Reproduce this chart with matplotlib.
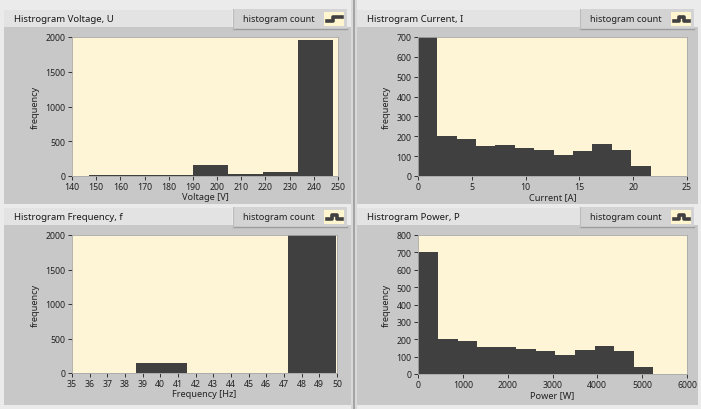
import matplotlib
matplotlib.use("Agg")
import matplotlib.pyplot as plt
from matplotlib.patches import Rectangle
from matplotlib.lines import Line2D

W, H = 701, 410
FONT = ["Noto Sans", "DejaVu Sans"]

# ---------------- data ----------------
voltage_edges = [147, 161.4, 175.8, 190.2, 204.6, 219, 233.4, 247.8]
voltage_counts = [12, 12, 12, 160, 22, 62, 1950]
voltage_xticks = [140, 150, 160, 170, 180, 190, 200, 210, 220, 230, 240, 250]
voltage_yticks = [0, 500, 1000, 1500, 2000]

current_edges = [0, 1.8, 3.6, 5.4, 7.2, 9.0, 10.8, 12.6, 14.4, 16.2, 18.0, 19.8, 21.7]
current_counts = [700, 202, 185, 150, 157, 140, 131, 106, 126, 162, 131, 51]
current_xticks = [0, 5, 10, 15, 20, 25]
current_yticks = [0, 100, 200, 300, 400, 500, 600, 700]

freq_edges = [38.6, 41.5, 47.2, 49.95]
freq_counts = [140, 3, 2000]
freq_xticks = [35, 36, 37, 38, 39, 40, 41, 42, 43, 44, 45, 46, 47, 48, 49, 50]
freq_yticks = [0, 500, 1000, 1500, 2000]

power_edges = [0, 439, 885, 1323, 1762, 2193, 2632, 3063, 3494, 3940, 4379, 4810, 5249]
power_counts = [704, 200, 189, 156, 156, 143, 135, 109, 137, 162, 135, 38]
power_xticks = [0, 1000, 2000, 3000, 4000, 5000, 6000]
power_yticks = [0, 100, 200, 300, 400, 500, 600, 700, 800]

titles = ["Histrogram Voltage, U", "Histrogram Current, I",
          "Histrogram Frequency, f", "Histrogram Power, P"]
xlabels = ["Voltage [V]", "Current [A]", "Frequency [Hz]", "Power [W]"]
legend_text = "histogram count"

# ---------------- layout helpers ----------------
fig = plt.figure(figsize=(W / 100, H / 100), dpi=100)
fig.patch.set_facecolor("#ebebeb")


def rect(x0, y0, x1, y1, fc, ec="none", lw=0.0, z=0):
    fig.patches.append(Rectangle((x0 / W, 1 - y1 / H), (x1 - x0) / W, (y1 - y0) / H,
                                 transform=fig.transFigure, facecolor=fc,
                                 edgecolor=ec, linewidth=lw, zorder=z))


def line(xs, ys, color, lw, z=3):
    fig.lines.append(Line2D([x / W for x in xs], [1 - y / H for y in ys],
                            transform=fig.transFigure, color=color, linewidth=lw, zorder=z))


def text(x, y, s, size, **kw):
    fig.text(x / W, 1 - y / H, s, fontsize=size, family=FONT, zorder=6, **kw)


BAR = "#404040"
PLOTBG = "#fdf5d6"
PANEL = "#c8c8c8"

panels = [
    # (panel x0, x1, y0 title, y1 bottom, axes box l, r, t, b)
    (4, 351, 9, 205, 72, 338, 38, 177),
    (357, 698, 9, 205, 418, 687, 38, 177),
    (4, 351, 207, 406, 72, 337, 236, 374),
    (357, 698, 207, 406, 418, 687, 236, 375),
]

data = [
    (voltage_edges, voltage_counts, voltage_xticks, voltage_yticks, (140, 250), (0, 2000)),
    (current_edges, current_counts, current_xticks, current_yticks, (0, 25), (0, 700)),
    (freq_edges, freq_counts, freq_xticks, freq_yticks, (35, 50), (0, 2000)),
    (power_edges, power_counts, power_xticks, power_yticks, (0, 6000), (0, 800)),
]

icons = ["step", "bump", "bump", "bump"]

# vertical divider
rect(351, 0, 357, H, "#d9d9d9")
line([353.5, 353.5], [0, H], "#9a9a9a", 1.2, z=1)

for i, ((px0, px1, py0, py1, l, r, t, b), (edges, counts, xt, yt, xl, yl)) in enumerate(zip(panels, data)):
    # title strip + graph panel
    rect(px0, py0 + 19, px1, py1, PANEL, z=0)
    rect(px0, py0 + 2, px0 + 228, py0 + 19, "#e3e3e3", z=0)
    # legend button
    lx0, lx1 = px1 - 118, px1 - 4
    rect(lx0, py0 + 1, lx1, py0 + 21, "#d3d3d3", z=1)
    line([lx0, lx1], [py0 + 21, py0 + 21], "#9c9c9c", 1.0)
    line([lx0, lx0], [py0 + 1, py0 + 21], "#bdbdbd", 0.8)
    text(lx0 + 10, py0 + 11, legend_text, 6.6, va="center", ha="left", color="#202020")
    # icon
    ix0, ix1 = lx1 - 23, lx1 - 3
    rect(ix0, py0 + 4, ix1, py0 + 18, "#fff6cf", z=2)
    yc = py0 + 11
    if icons[i] == "step":
        line([ix0 + 3, ix0 + 9, ix0 + 9, ix1 - 2], [yc + 2, yc + 2, yc - 2, yc - 2], BAR, 2.6)
    else:
        line([ix0 + 3, ix0 + 7.5, ix0 + 7.5, ix0 + 12.5, ix0 + 12.5, ix1 - 2],
             [yc + 2, yc + 2, yc - 2, yc - 2, yc + 2, yc + 2], BAR, 2.6)
    # title text
    text(px0 + 10, py0 + 11, titles[i], 6.9, va="center", ha="left", color="#1a1a1a")

    ax = fig.add_axes([l / W, 1 - b / H, (r - l) / W, (b - t) / H])
    ax.set_zorder(10)
    ax.set_facecolor(PLOTBG)
    ax.stairs(counts, edges, fill=True, color=BAR, linewidth=0)
    ax.set_xlim(*xl)
    ax.set_ylim(*yl)
    ax.set_xticks(xt)
    ax.set_yticks(yt)
    for s in ax.spines.values():
        s.set_color("#a8a8a8")
        s.set_linewidth(0.6)
    ax.tick_params(axis="both", labelsize=6.3, colors="#333333", length=3, width=0.7,
                   pad=1.5, direction="out")
    for lab in ax.get_xticklabels() + ax.get_yticklabels():
        lab.set_family(FONT)
        lab.set_color("#222222")
    ax.set_ylabel("frequency", fontsize=6.6, family=FONT, color="#222222", labelpad=4)
    ax.set_xlabel(xlabels[i], fontsize=6.6, family=FONT, color="#222222", labelpad=0.5)

fig.savefig("out.png", dpi=100, facecolor=fig.get_facecolor())
